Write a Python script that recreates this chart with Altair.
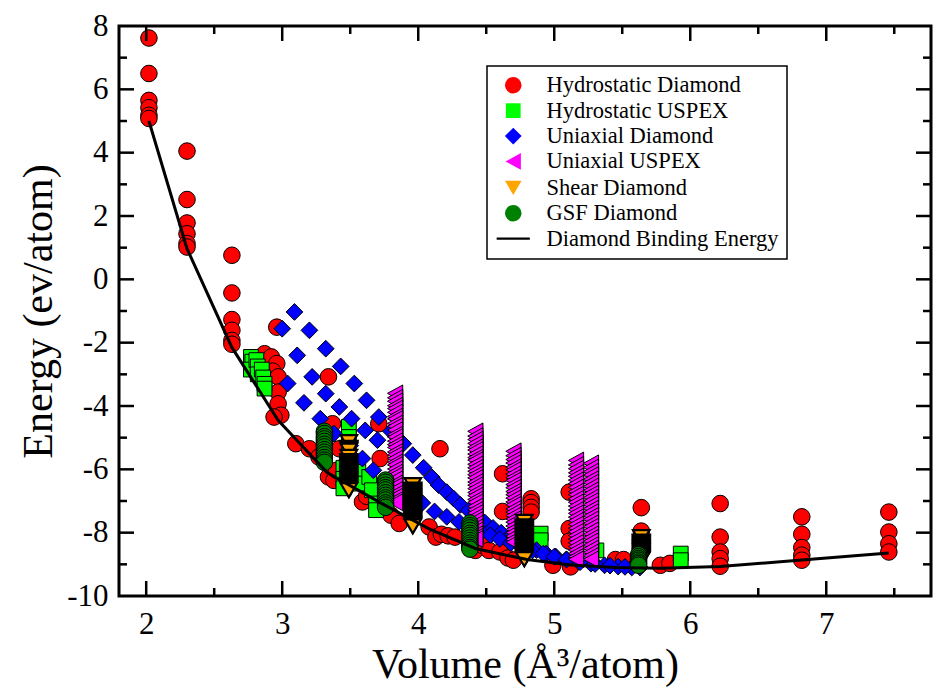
import altair as alt
import pandas as pd

SERIES = ["Hydrostatic Diamond", "Hydrostatic USPEX", "Uniaxial Diamond",
          "Uniaxial USPEX", "Shear Diamond", "GSF Diamond", "Diamond Binding Energy"]
COLORS = ["#ff0000", "#00ff00", "#0000ff", "#ff00ff", "#ffa500", "#008000", "#000000"]
SQUARE = "M-0.89,-0.89L0.89,-0.89L0.89,0.89L-0.89,0.89Z"
DIAMOND = "M-1.01,0L0,-1.01L1.01,0L0,1.01Z"
TRI_LEFT = "M-0.92,0L0.92,-1.01L0.92,1.01Z"
TRI_DOWN = "M0,0.85L-1,-0.85L1,-0.85Z"
LINE_SYM = "M-2,-0.14L2,-0.14L2,0.14L-2,0.14Z"
SHAPES = ["circle", SQUARE, DIAMOND, TRI_LEFT, TRI_DOWN, "circle", LINE_SYM]
OUTLINE = [1, 1, 1, 1, 2.2, 1, 1]

# Hydrostatic Diamond (red circles)
hd_x = [2.02, 2.02, 2.02, 2.02, 2.02, 2.02,
        2.30, 2.30, 2.30, 2.30, 2.30, 2.30,
        2.63, 2.63, 2.63, 2.63, 2.63, 2.63,
        2.87, 2.92, 2.96, 2.96, 2.93, 2.97, 2.97, 2.97, 2.99, 2.94,
        3.10, 3.20, 3.27, 3.34, 3.38, 3.34, 3.37, 3.42, 3.40,
        3.59, 3.62, 3.71, 3.72, 3.80, 3.86,
        4.08, 4.13, 4.16, 4.17, 4.22, 4.27,
        4.42, 4.47, 4.52,
        4.62, 4.62, 4.60, 4.66, 4.70,
        4.83, 4.83, 4.83, 4.83,
        4.99, 5.11, 5.11, 5.11, 5.12,
        5.45, 5.51, 5.64, 5.64, 5.64, 5.78, 5.85,
        6.22, 6.22, 6.22, 6.22, 6.22,
        6.82, 6.82, 6.82, 6.82, 6.82,
        7.46, 7.46, 7.46, 7.46]
hd_y = [7.62, 6.50, 5.65, 5.42, 5.18, 5.08,
        4.05, 2.52, 1.78, 1.44, 1.13, 1.02,
        0.76, -0.43, -1.27, -1.61, -1.93, -2.05,
        -2.35, -2.45, -1.51, -2.66, -2.90, -3.08, -3.56, -3.93, -4.29, -4.35,
        -5.19, -5.35, -5.61, -6.24, -6.35, -3.08, -4.56, -5.35, -6.03,
        -7.03, -6.85, -4.56, -5.66, -7.45, -7.71,
        -7.82, -8.14, -5.35, -8.05, -8.10, -8.14,
        -8.56, -8.40, -8.56,
        -6.14, -7.33, -8.61, -8.80, -8.87,
        -6.93, -7.05, -7.20, -7.35,
        -9.03, -6.72, -7.87, -8.27, -9.08,
        -8.85, -8.85, -7.21, -7.95, -8.20, -9.03, -8.97,
        -7.08, -8.14, -8.61, -8.82, -9.06,
        -7.50, -8.05, -8.47, -8.71, -8.87,
        -7.35, -7.98, -8.35, -8.61]

# Hydrostatic USPEX (green squares)
hu_x = [2.77, 2.78, 2.77, 2.81, 2.82, 2.82, 2.85, 2.86, 2.87, 2.87,
        3.49, 3.49, 3.49, 3.45, 3.45, 3.45, 3.56, 3.57, 3.64, 3.66, 3.69, 3.69,
        4.90, 4.90, 5.31, 5.93, 5.93]
hu_y = [-2.45, -2.60, -2.85, -2.55, -2.75, -3.00, -2.85, -3.10, -3.30, -3.45,
        -4.66, -4.98, -5.30, -5.95, -6.30, -6.60, -6.08, -6.45, -6.24, -6.66, -7.08, -7.29,
        -8.03, -8.24, -8.56, -8.66, -8.87]

# Uniaxial Diamond (blue diamonds)
ud_x = [3.09, 3.00, 3.20, 3.11, 3.32, 3.04, 3.22, 3.43, 3.16, 3.32, 3.53, 3.28,
        3.42, 3.62, 3.38, 3.51, 3.71, 3.61, 3.70, 3.50, 3.59, 3.67, 3.80,
        3.89, 3.96, 4.04, 4.10, 4.15, 4.21, 4.26, 4.31, 4.37, 4.43, 4.49, 4.55,
        4.61, 4.67, 4.73, 4.80, 4.87, 4.94, 5.01, 5.09, 5.18, 5.27, 5.37, 5.47, 5.57,
        3.93, 4.03, 4.12, 4.21, 4.30, 4.38, 4.46, 4.53, 4.60, 4.68, 4.76, 4.84,
        4.92, 5.00, 5.09, 5.19, 5.30, 5.41, 5.52, 5.63]
ud_y = [-1.03, -1.56, -1.61, -2.40, -2.19, -3.29, -3.08, -2.75, -3.90, -3.61, -3.29, -4.40,
        -4.03, -3.82, -4.87, -4.40, -4.35, -4.77, -5.08, -5.25, -5.66, -6.03, -4.80,
        -5.19, -5.55, -5.95, -6.25, -6.50, -6.72, -6.92, -7.12, -7.30, -7.50, -7.68, -7.85,
        -8.00, -8.15, -8.30, -8.43, -8.55, -8.66, -8.75, -8.84, -8.92, -8.98, -9.03, -9.07, -9.10,
        -6.77, -7.06, -7.33, -7.50, -7.66, -7.82, -7.96, -8.08, -8.20, -8.33, -8.45, -8.56,
        -8.66, -8.76, -8.85, -8.93, -8.99, -9.04, -9.08, -9.10]

# Uniaxial USPEX (magenta triangles), stacks at fixed volumes
uu_stack_x = [3.83, 4.42, 4.70, 5.16, 5.27]
uu_stack_y = [
    [-3.60, -3.74, -3.85, -3.99, -4.08, -4.20, -4.33, -4.41, -4.55, -4.64, -4.76, -4.90, -4.98,
     -5.11, -5.22, -5.31, -5.45, -5.54, -5.66, -5.78, -5.86, -5.99, -6.10, -6.19, -6.31, -6.44,
     -6.52, -6.65, -6.77, -6.86, -6.97, -7.04],
    [-4.80, -4.95, -5.06, -5.18, -5.30, -5.39, -5.52, -5.63, -5.71, -5.84, -5.95, -6.06, -6.17,
     -6.27, -6.40, -6.50, -6.61, -6.73, -6.83, -6.95, -7.04, -7.17, -7.28, -7.38, -7.50, -7.60,
     -7.72, -7.83, -7.93, -8.05, -8.13, -8.20],
    [-5.43, -5.57, -5.69, -5.80, -5.93, -6.02, -6.15, -6.26, -6.35, -6.48, -6.58, -6.70, -6.80,
     -6.91, -7.03, -7.12, -7.25, -7.35, -7.46, -7.57, -7.67, -7.79, -7.90, -8.00, -8.11, -8.21, -8.30],
    [-5.72, -5.86, -5.98, -6.11, -6.22, -6.34, -6.45, -6.57, -6.70, -6.80, -6.93, -7.04, -7.16,
     -7.28, -7.39, -7.51, -7.62, -7.74, -7.86, -7.97, -8.09, -8.20, -8.32, -8.44, -8.55, -8.66,
     -8.76, -8.84],
    [-5.81, -5.94, -6.07, -6.18, -6.31, -6.42, -6.54, -6.66, -6.77, -6.89, -7.00, -7.12, -7.24,
     -7.35, -7.47, -7.58, -7.70, -7.81, -7.93, -8.05, -8.16, -8.27, -8.39, -8.50, -8.62, -8.73, -8.84],
]

# Shear Diamond (orange down triangles)
sh_stack_x = [3.49, 3.96, 4.78, 5.64]
sh_stack_y = [
    [-5.14, -5.32, -5.35, -5.38, -5.41, -5.61, -5.74, -5.77, -5.80, -5.83, -5.86, -5.89, -5.92,
     -5.95, -5.98, -6.01, -6.04, -6.07, -6.10, -6.13, -6.16, -6.19, -6.22, -6.25, -6.28, -6.31,
     -6.34, -6.37, -6.40, -6.43, -6.46, -6.49, -6.52, -6.55, -6.58, -6.61, -6.64, -6.66],
    [-6.50, -6.64, -6.67, -6.70, -6.73, -6.76, -6.79, -6.82, -6.85, -6.88, -6.91, -6.94, -6.97,
     -7.00, -7.03, -7.06, -7.09, -7.12, -7.15, -7.18, -7.21, -7.24, -7.27, -7.30, -7.33, -7.36,
     -7.39, -7.42, -7.45, -7.48, -7.51, -7.54, -7.57, -7.60, -7.63, -7.66, -7.69, -7.72, -7.75,
     -7.78, -7.80],
    [-7.66, -7.80, -7.83, -7.86, -7.89, -7.92, -7.95, -7.98, -8.01, -8.04, -8.07, -8.10, -8.13,
     -8.16, -8.19, -8.22, -8.25, -8.28, -8.31, -8.34, -8.37, -8.40, -8.43, -8.46, -8.49, -8.52,
     -8.55, -8.58, -8.61, -8.64, -8.67, -8.70, -8.73, -8.76, -8.79, -8.82, -8.84],
    [-8.14, -8.28, -8.31, -8.34, -8.37, -8.40, -8.43, -8.46, -8.49, -8.52, -8.55, -8.58, -8.61,
     -8.64, -8.67, -8.70, -8.73, -8.76, -8.79, -8.82, -8.85],
]

# GSF Diamond (dark green circles)
gsf_stack_x = [3.31, 3.76, 4.38, 5.62]
gsf_stack_y = [
    [-4.80, -4.87, -4.97, -5.04, -5.12, -5.21, -5.29, -5.38, -5.46, -5.54, -5.63, -5.71, -5.78],
    [-6.34, -6.41, -6.50, -6.58, -6.65, -6.74, -6.82, -6.90, -6.97, -7.06, -7.13, -7.20],
    [-7.70, -7.78, -7.85, -7.93, -8.02, -8.09, -8.17, -8.25, -8.33, -8.40, -8.47, -8.52],
    [-8.70, -8.76, -8.82, -8.87, -8.93, -8.98, -9.03],
]

# Diamond binding energy curve
be_x = [2.02, 2.30, 2.63, 2.97, 3.33, 3.72, 4.08, 4.42, 4.80, 5.12, 5.45, 5.78, 6.22, 6.82, 7.46]
be_y = [5.00, 0.97, -2.15, -4.45, -6.10, -7.05, -7.88, -8.50, -8.85, -9.02, -9.10, -9.12, -9.07, -8.86, -8.64]

# axis ticks
x_labels = [2, 3, 4, 5, 6, 7]
x_major = [2, 3, 4, 5, 6, 7]
x_minor = [2.5, 3.5, 4.5, 5.5, 6.5, 7.5]
y_labels = [-10, -8, -6, -4, -2, 0, 2, 4, 6, 8]
y_major = [-8, -6, -4, -2, 0, 2, 4, 6]
y_minor = [-9, -7, -5, -3, -1, 1, 3, 5, 7]

rows = []
for x, y in zip(hd_x, hd_y):
    rows.append((SERIES[0], x, y))
for x, y in zip(hu_x, hu_y):
    rows.append((SERIES[1], x, y))
for x, y in zip(ud_x, ud_y):
    rows.append((SERIES[2], x, y))
for sx, ys_ in zip(uu_stack_x, uu_stack_y):
    for y in ys_:
        rows.append((SERIES[3], sx, y))
for sx, ys_ in zip(sh_stack_x, sh_stack_y):
    for y in ys_:
        rows.append((SERIES[4], sx, y))
for sx, ys_ in zip(gsf_stack_x, gsf_stack_y):
    for y in ys_:
        rows.append((SERIES[5], sx, y))
pts = pd.DataFrame(rows, columns=["series", "x", "y"])
line_df = pd.DataFrame({"x": be_x, "y": be_y})

W, H = 812, 570
MAJ, MIN = 15, 8
SYM = 275
xs = alt.Scale(domain=[1.8, 7.77], nice=False, zero=False)
ys = alt.Scale(domain=[-10, 8], nice=False, zero=False)
FONT = "Liberation Serif"
XT = "Volume (Å³/atom)"
YT = "Energy (ev/atom)"
LFS, TFS = 31, 42

AX = alt.Axis(values=x_labels, title=XT, labelPadding=13, titlePadding=5,
              labelFont=FONT, labelFontSize=LFS, labelColor="black",
              titleFont=FONT, titleFontSize=TFS, titleFontWeight="normal", titleColor="black",
              grid=False, domain=False, ticks=False)
AY = alt.Axis(values=y_labels, title=YT, labelExpr="'' + datum.value",
              labelPadding=11, titlePadding=6,
              labelFont=FONT, labelFontSize=LFS, labelColor="black",
              titleFont=FONT, titleFontSize=TFS, titleFontWeight="normal", titleColor="black",
              grid=False, domain=False, ticks=False)

leg = alt.Legend(orient="none", legendX=368, legendY=40, title=None,
                 padding=8, symbolOffset=7, labelOffset=22, rowPadding=2.4,
                 symbolSize=SYM, labelFont=FONT, labelFontSize=22.5, labelColor="black",
                 labelLimit=0, strokeColor="black", fillColor="white",
                 symbolStrokeColor="black", symbolStrokeWidth=1, symbolOpacity=1)

points = alt.Chart(pts).mark_point(filled=True, size=SYM, stroke="black", opacity=1).encode(
    x=alt.X("x:Q", scale=xs, axis=AX, title=XT),
    y=alt.Y("y:Q", scale=ys, axis=AY, title=YT),
    color=alt.Color("series:N", scale=alt.Scale(domain=SERIES, range=COLORS), legend=leg),
    shape=alt.Shape("series:N", scale=alt.Scale(domain=SERIES, range=SHAPES), legend=leg),
    strokeWidth=alt.StrokeWidth("series:N",
                                scale=alt.Scale(type="ordinal", domain=SERIES, range=OUTLINE),
                                legend=None),
)

line = alt.Chart(line_df).mark_line(color="black", strokeWidth=3).encode(
    x=alt.X("x:Q", scale=xs, axis=AX, title=XT),
    y=alt.Y("y:Q", scale=ys, axis=AY, title=YT),
)

def xticks(vals, length):
    d = pd.DataFrame({"x": vals})
    b = alt.Chart(d).mark_rule(color="black", strokeWidth=2.5).encode(
        x=alt.X("x:Q", scale=xs, axis=AX, title=XT), y=alt.value(H), y2=alt.value(H - length))
    t = alt.Chart(d).mark_rule(color="black", strokeWidth=2.5).encode(
        x=alt.X("x:Q", scale=xs, axis=AX, title=XT), y=alt.value(0), y2=alt.value(length))
    return [b, t]

def yticks(vals, length):
    d = pd.DataFrame({"y": vals})
    l = alt.Chart(d).mark_rule(color="black", strokeWidth=2.5).encode(
        y=alt.Y("y:Q", scale=ys, axis=AY, title=YT), x=alt.value(0), x2=alt.value(length))
    r = alt.Chart(d).mark_rule(color="black", strokeWidth=2.5).encode(
        y=alt.Y("y:Q", scale=ys, axis=AY, title=YT), x=alt.value(W), x2=alt.value(W - length))
    return [l, r]

layers = [points, line] + xticks(x_major, MAJ) + xticks(x_minor, MIN) \
    + yticks(y_major, MAJ) + yticks(y_minor, MIN)

chart = alt.layer(*layers).properties(
    width=W, height=H,
    autosize=alt.AutoSizeParams(type="none"),
    padding={"left": 119, "top": 26, "right": 5, "bottom": 97},
    background="white",
).configure_view(stroke="black", strokeWidth=3).configure_axis(
    grid=False, domain=False, ticks=False,
    labelFont=FONT, labelFontSize=LFS, labelColor="black",
    titleFont=FONT, titleFontSize=TFS, titleFontWeight="normal", titleColor="black",
).configure_legend(strokeWidth=1.5)

chart.save("out.html", embed_options={"renderer": "svg", "actions": False})
